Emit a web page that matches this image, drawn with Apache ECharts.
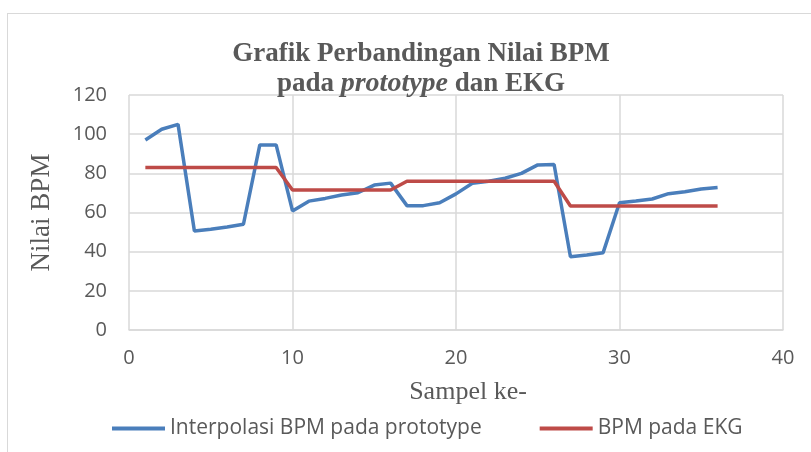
<!DOCTYPE html>
<html><head><meta charset="utf-8">
<script src="https://cdn.jsdelivr.net/npm/echarts@6/dist/echarts.min.js"></script>
<style>
html,body{margin:0;padding:0;background:#fff;}
#frame{position:absolute;left:7px;top:13px;width:820px;height:460px;border:1px solid #d9d9d9;}
#c{position:absolute;left:0;top:0;width:811px;height:452px;}
</style></head><body>
<div id="frame"></div>
<div id="c"></div>
<script>
const samples = [1,2,3,4,5,6,7,8,9,10,11,12,13,14,15,16,17,18,19,20,21,22,23,24,25,26,27,28,29,30,31,32,33,34,35,36];
const prototypeBPM = [97,102.5,105,50.6,51.5,52.6,54,94.5,94.5,60.8,65.8,67.2,68.9,70.1,74,75,63.5,63.5,65,69.5,74.9,76,77.5,80,84.3,84.5,37.4,38.3,39.5,65,65.9,66.9,69.6,70.6,72,72.8];
const ekgBPM = [83,83,83,83,83,83,83,83,83,71.5,71.5,71.5,71.5,71.5,71.5,71.5,76,76,76,76,76,76,76,76,76,76,63.3,63.3,63.3,63.3,63.3,63.3,63.3,63.3,63.3,63.3];
const xTicks = [0,10,20,30,40];
const yTicks = [0,20,40,60,80,100,120];
const seriesNames = ['Interpolasi BPM pada prototype','BPM pada EKG'];

const chart = echarts.init(document.getElementById('c'));
const pair = (ys) => samples.map((x,i)=>[x,ys[i]]);
chart.setOption({
  animation:false,
  backgroundColor:'transparent',
  title:{
    text:'{b|Grafik Perbandingan Nilai BPM}\n{b|pada }{i|prototype}{b| dan EKG}',
    left:416, top:34, textAlign:'center',
    textStyle:{
      rich:{
        b:{fontFamily:'Liberation Serif',fontWeight:'bold',fontSize:27,color:'#595959',lineHeight:30},
        i:{fontFamily:'Liberation Serif',fontWeight:'bold',fontStyle:'italic',fontSize:28,color:'#595959',lineHeight:30}
      }
    }
  },
  grid:{left:129,right:28,top:95,bottom:122},
  legend:{
    bottom:8, left:107,
    itemWidth:53, itemHeight:4, itemGap:58,
    icon:'rect',
    textStyle:{fontFamily:'Open Sans',fontSize:21,color:'#595959'},
    data:seriesNames
  },
  xAxis:{
    type:'value', min:0, max:40, interval:10,
    name:'Sampel ke-', nameLocation:'middle', nameGap:49,
    nameTextStyle:{fontFamily:'Liberation Serif',fontSize:26,color:'#595959',padding:[0,0,0,24]},
    axisLine:{show:true,lineStyle:{color:'#d9d9d9',width:1.5}},
    axisTick:{show:false},
    axisLabel:{fontFamily:'Open Sans',fontSize:20,color:'#595959',margin:18,
      formatter:(v)=>xTicks.includes(v)?String(v):''},
    splitLine:{show:true,lineStyle:{color:'#d9d9d9',width:1.5}}
  },
  yAxis:{
    type:'value', min:0, max:120, interval:20,
    name:'Nilai BPM', nameLocation:'middle', nameGap:74,
    nameTextStyle:{fontFamily:'Liberation Serif',fontSize:27,color:'#595959'},
    axisLine:{show:false},
    axisTick:{show:false},
    axisLabel:{fontFamily:'Open Sans',fontSize:20,color:'#595959',margin:22,
      formatter:(v)=>yTicks.includes(v)?String(v):''},
    splitLine:{show:true,lineStyle:{color:'#d9d9d9',width:1.5}}
  },
  series:[
    {name:seriesNames[0],type:'line',data:pair(prototypeBPM),showSymbol:false,symbol:'none',
     lineStyle:{color:'#4a7ebb',width:3.5},itemStyle:{color:'#4a7ebb'}},
    {name:seriesNames[1],type:'line',data:pair(ekgBPM),showSymbol:false,symbol:'none',
     lineStyle:{color:'#be4b48',width:3.5},itemStyle:{color:'#be4b48'}}
  ]
});
</script>
</body></html>
